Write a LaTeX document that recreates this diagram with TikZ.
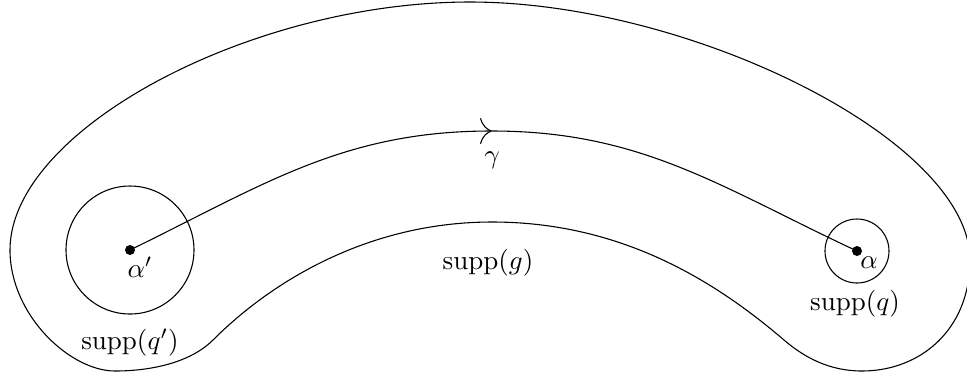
\documentclass[tikz,border=0pt]{standalone}
\usetikzlibrary{arrows.meta}
\begin{document}
\begin{tikzpicture}[x=0.013cm,y=-0.013cm,
  dot/.style={fill=black,circle,inner sep=0pt,minimum size=3.7pt},
  lbl/.style={inner sep=0pt},
  tip/.style={-{To[length=4.4pt,width=9.6pt]}}]
\useasboundingbox (0,0) rectangle (967,371);
% support of g
\draw (10,250) .. controls (10,130) and (250,2) .. (470,2)
  .. controls (690,2) and (970,140) .. (970,260)
  .. controls (970,330) and (920,371) .. (862,371)
  .. controls (830,371) and (805,358) .. (784,340)
  .. controls (714,280) and (620,222) .. (492,222)
  .. controls (370,222) and (273,280) .. (213,340)
  .. controls (190,363) and (150,371) .. (115,371)
  .. controls (70,371) and (10,315) .. (10,250) -- cycle;
% points
\coordinate (ap) at (130,250);
\coordinate (a) at (857,251);
\coordinate (m) at (492,131);
\draw (ap) circle[radius=64];
\draw (a) circle[radius=32];
\draw[tip] (ap) to[out=26,in=180] (m);
\draw (m) to[out=0,in=155] (a);
\node[dot] (dap) at (ap) {};
\node[dot] (da) at (a) {};
\node[lbl] (lap) at (140,267) {$\alpha'$};
\node[lbl] (la) at (869,263) {$\alpha$};
\node[lbl] (lg) at (492,160) {$\gamma$};
\node[lbl] (sqp) at (130,343) {$\mathrm{supp}(q')$};
\node[lbl] (sq) at (855,304) {$\mathrm{supp}(q)$};
\node[lbl] (sg) at (488,263) {$\mathrm{supp}(g)$};
\end{tikzpicture}
\end{document}
